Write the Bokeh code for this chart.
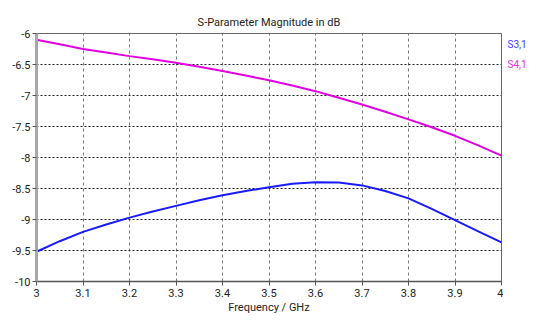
from bokeh.plotting import figure
from bokeh.models import Range1d, FixedTicker
from bokeh.core.properties import value
from bokeh.layouts import row
from bokeh.embed import file_html
from bokeh.resources import INLINE

freq_s31 = [3.0, 3.05, 3.1, 3.15, 3.2, 3.25, 3.3, 3.35, 3.4, 3.45, 3.5,
            3.55, 3.6, 3.65, 3.7, 3.75, 3.8, 3.85, 3.9, 3.95, 4.0]
s31 = [-9.52, -9.35, -9.20, -9.08, -8.97, -8.87, -8.78, -8.69, -8.61, -8.54, -8.48,
       -8.425, -8.40, -8.405, -8.45, -8.54, -8.66, -8.83, -9.01, -9.19, -9.37]

freq_s41 = [3.0, 3.05, 3.1, 3.15, 3.2, 3.25, 3.3, 3.35, 3.4, 3.45, 3.5,
            3.55, 3.6, 3.65, 3.7, 3.75, 3.8, 3.85, 3.9, 3.95, 4.0]
s41 = [-6.10, -6.173, -6.25, -6.305, -6.365, -6.416, -6.47, -6.535, -6.605, -6.677, -6.755,
       -6.84, -6.93, -7.035, -7.146, -7.262, -7.385, -7.513, -7.65, -7.805, -7.97]

x_ticks = [3.0, 3.1, 3.2, 3.3, 3.4, 3.5, 3.6, 3.7, 3.8, 3.9, 4.0]
x_tick_labels = ["3", "3.1", "3.2", "3.3", "3.4", "3.5", "3.6", "3.7", "3.8", "3.9", "4"]
y_ticks = [-10.0, -9.5, -9.0, -8.5, -8.0, -7.5, -7.0, -6.5, -6.0]
y_tick_labels = ["-10", "-9.5", "-9", "-8.5", "-8", "-7.5", "-7", "-6.5", "-6"]

title_text = "S-Parameter Magnitude in dB"
x_label = "Frequency / GHz"
series_names = ["S3,1", "S4,1"]
series_label_y = [-6.17, -6.5]
series_colors = ["#1a1aff", "#e000e0"]
label_colors = ["#3b3bff", "#e030e0"]

FONT = "Roboto"

p = figure(width=503, height=316, output_backend="svg", toolbar_location=None,
           x_range=Range1d(3, 4), y_range=Range1d(-10, -6),
           min_border_left=36, min_border_right=2, min_border_top=33, min_border_bottom=32)

p.background_fill_color = "white"
p.border_fill_color = "white"
p.outline_line_color = "#666666"
p.outline_line_width = 1

p.title.text = title_text
p.title.align = "center"
p.title.text_font = FONT
p.title.text_font_size = "11px"
p.title.text_font_style = "normal"
p.title.text_color = "#222222"
p.title.standoff = 9

# axes
p.xaxis.ticker = FixedTicker(ticks=x_ticks)
p.yaxis.ticker = FixedTicker(ticks=y_ticks)
p.xaxis.major_label_overrides = {t: l for t, l in zip(x_ticks, x_tick_labels)}
p.yaxis.major_label_overrides = {t: l for t, l in zip(y_ticks, y_tick_labels)}
for ax in (p.xaxis, p.yaxis):
    ax.major_label_text_font = FONT
    ax.major_label_text_font_size = "11px"
    ax.major_label_text_color = "#222222"
    ax.minor_tick_line_color = None
    ax.major_tick_in = 0
    ax.major_tick_out = 4
    ax.major_tick_line_color = "#555555"
p.xaxis.axis_line_color = "#555555"
p.xaxis.axis_line_width = 1.5
p.yaxis.axis_line_color = "#a8a8a8"
p.yaxis.axis_line_width = 3
p.xaxis.major_label_standoff = 3
p.yaxis.major_label_standoff = 2

p.xaxis.axis_label = x_label
p.xaxis.axis_label_text_font = FONT
p.xaxis.axis_label_text_font_size = "11px"
p.xaxis.axis_label_text_font_style = "normal"
p.xaxis.axis_label_text_color = "#222222"
p.xaxis.axis_label_standoff = 1

# grid
p.xgrid.grid_line_color = "#777777"
p.xgrid.grid_line_dash = "3 3"
p.xgrid.grid_line_width = 1
p.ygrid.grid_line_color = "#222222"
p.ygrid.grid_line_dash = "2 2"
p.ygrid.grid_line_width = 1

# data
p.line(freq_s41, s41, line_color=series_colors[1], line_width=2)
p.line(freq_s31, s31, line_color=series_colors[0], line_width=2)

# legend labels in a narrow side panel whose frame aligns with the main frame
p2 = figure(width=24, height=316, output_backend="svg", toolbar_location=None,
            x_range=Range1d(0, 24), y_range=Range1d(-10, -6),
            x_axis_type=None, y_axis_type=None,
            min_border_left=0, min_border_right=0, min_border_top=33, min_border_bottom=32)
p2.outline_line_color = None
p2.grid.visible = False
p2.background_fill_color = "white"
p2.border_fill_color = "white"
p2.text(x=[4, 4], y=series_label_y, text=series_names, text_color=label_colors,
        text_font_size="10px", text_align="left", text_baseline="middle",
        text_font=value(FONT))

layout = row(p, p2, spacing=0)
open("out.html", "w").write(file_html(layout, INLINE))
